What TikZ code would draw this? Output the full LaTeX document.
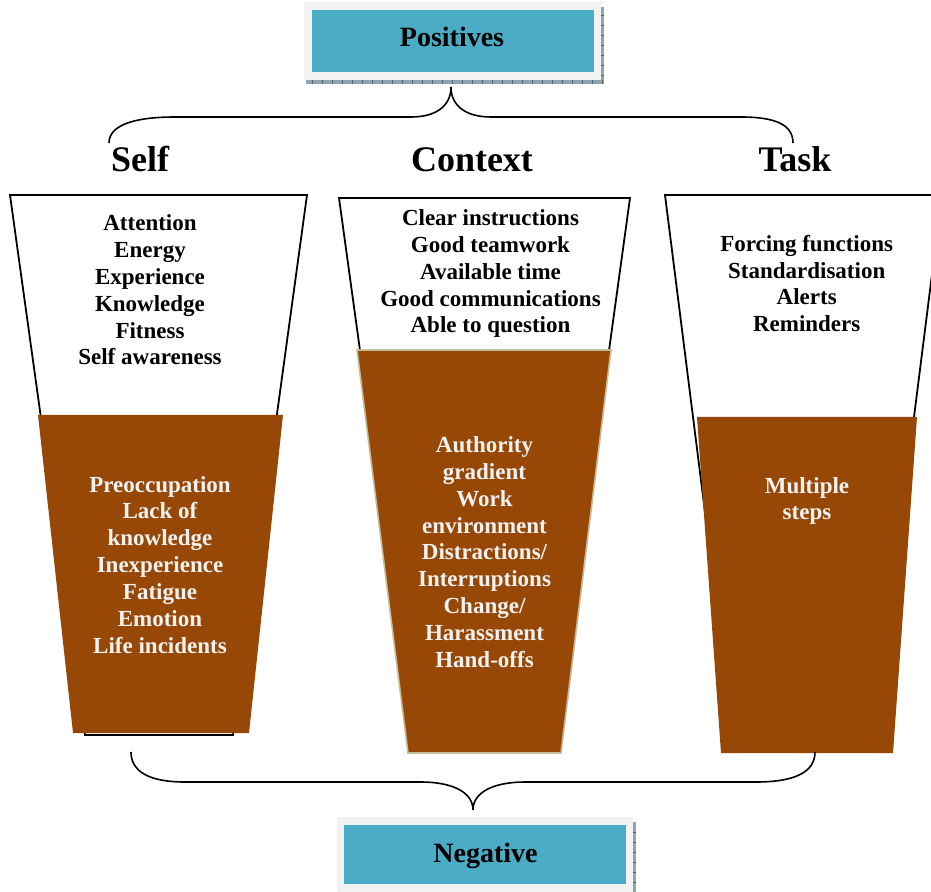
\documentclass[tikz,border=0pt]{standalone}
\usepackage{fontspec}
\setmainfont{Liberation Serif}
\usepackage{tikz}
\usetikzlibrary{positioning}

\definecolor{boxcyan}{RGB}{75,172,198}
\definecolor{framegray}{RGB}{242,242,242}
\definecolor{shadowblue}{RGB}{140,165,176}
\definecolor{cupbrown}{RGB}{152,72,6}
\definecolor{cuptan}{RGB}{196,189,151}

\tikzset{
  heading/.style={font=\fontsize{18}{20}\selectfont\bfseries, anchor=base, inner sep=0pt},
  boxtext/.style={font=\fontsize{14}{16}\selectfont\bfseries, anchor=base, inner sep=0pt},
  % base of a multi-line node sits on its last line
  factor/.style={font=\fontsize{11.5}{13.4}\selectfont\bfseries, align=center, anchor=base, inner sep=0pt},
  hazard/.style={factor, text=framegray},
  cup/.style={draw=black, line width=0.9pt, fill=white, line join=miter},
  brace/.style={draw=black, line width=0.8pt},
}

\begin{document}
\begin{tikzpicture}[x=0.5pt, y=-0.5pt]
\useasboundingbox (0,0) rectangle (931,892);
%% Positives box: hatched shadow, grey frame, cyan face
\fill[shadowblue] (306,80) rectangle (604,84);
\fill[shadowblue] (601,7) rectangle (604,84);
\foreach \x in {312,322,...,602}
  \draw[shadowblue!60!black, line width=0.3pt] (\x,80) -- (\x,84);
\foreach \y in {15,25,...,75}
  \draw[shadowblue!60!black, line width=0.3pt] (601,\y) -- (604,\y);
\fill[framegray] (304,2) rectangle (601,80);
\fill[boxcyan] (312,10) rectangle (594,72);
\node[boxtext] (pos) at (452,46.7) {Positives};
%% Brace down to the three headings
\draw[brace] (109,143) .. controls (109,126) and (132,117) .. (175,117)
  -- (411,117) .. controls (436,117) and (451,106) .. (451,87)
  .. controls (451,106) and (466,117) .. (491,117)
  -- (741,117) .. controls (778,117) and (793,126) .. (793,143);
\node[heading] (self) at (140,172) {Self};
\node[heading] (context) at (472,172) {Context};
\node[heading] (task) at (795,172) {Task};
%% Self cup
\draw[cup] (10,195) -- (307,195) -- (233,735) -- (85,735) -- cycle;
\fill[cupbrown] (38,415) -- (283,415) -- (249,733) -- (73,733) -- cycle;
\node[factor] (selfpos) at (150,365)
  {Attention\\Energy\\Experience\\Knowledge\\Fitness\\Self awareness};
\node[hazard] (selfneg) at (160,653)
  {Preoccupation\\Lack of\\knowledge\\Inexperience\\Fatigue\\Emotion\\Life incidents};
%% Context cup
\draw[cup] (339,198) -- (630,198) -- (554,750) -- (415,750) -- cycle;
\filldraw[fill=cupbrown, draw=cuptan, line width=0.8pt]
  (357,350) -- (611,350) -- (561,753) -- (408,753) -- cycle;
\node[factor] (ctxpos) at (490.5,333)
  {Clear instructions\\Good teamwork\\Available time\\Good communications\\Able to question};
\node[hazard] (ctxneg) at (484.5,667)
  {Authority\\gradient\\Work\\environment\\Distractions/\\Interruptions\\Change/\\Harassment\\Hand-offs};
%% Task cup (right corner runs off the page)
\draw[cup] (665,195) -- (942,195) -- (872,750) -- (735,750) -- cycle;
\fill[cupbrown] (697,417) -- (917,417) -- (893,753) -- (721,753) -- cycle;
\node[factor] (taskpos) at (806.7,331.7)
  {Forcing functions\\Standardisation\\Alerts\\Reminders};
\node[hazard] (taskneg) at (807,520) {Multiple\\steps};
%% Brace gathering the cups into Negative
\draw[brace] (131,752) .. controls (131,772) and (150,782) .. (185,782)
  -- (421,782) .. controls (452,782) and (473,792) .. (473,810)
  .. controls (473,792) and (494,782) .. (525,782)
  -- (756,782) .. controls (795,782) and (815,772) .. (815,752);
%% Negative box
\fill[shadowblue] (633,822) rectangle (636,900);
\foreach \y in {832,842,...,892}
  \draw[shadowblue!60!black, line width=0.3pt] (633,\y) -- (636,\y);
\fill[framegray] (337,817) rectangle (633,900);
\fill[boxcyan] (344,825) rectangle (626,884);
\node[boxtext] (neg) at (485.5,862.7) {Negative};
\end{tikzpicture}
\end{document}
